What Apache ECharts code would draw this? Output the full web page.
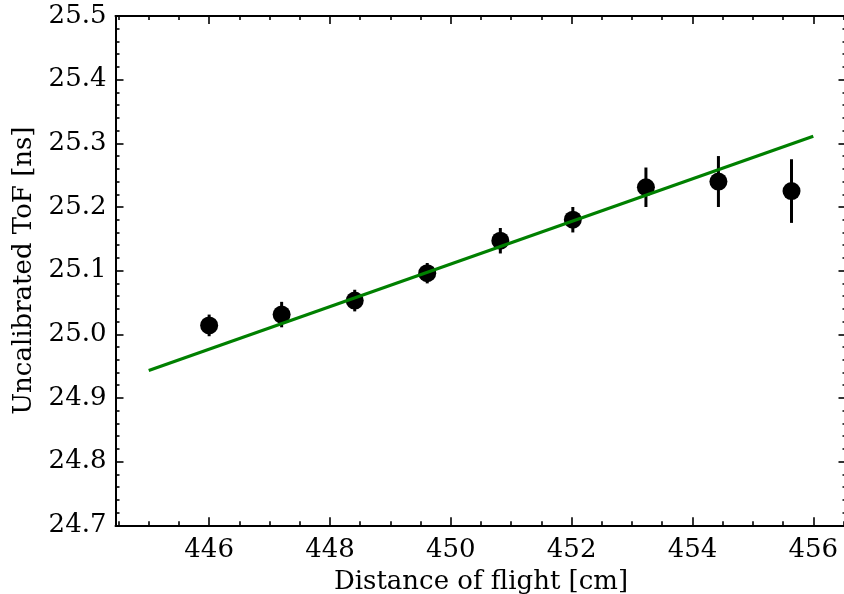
<!DOCTYPE html>
<html><head><meta charset="utf-8">
<script src="https://cdn.jsdelivr.net/npm/echarts@6/dist/echarts.min.js"></script>
<style>html,body{margin:0;padding:0;background:#fff}#c{width:844px;height:594px}</style>
</head><body><div id="c"></div>
<script>
const distance = [446.0, 447.2, 448.41, 449.61, 450.82, 452.02, 453.23, 454.43, 455.64];
const tof = [25.014, 25.031, 25.053, 25.096, 25.147, 25.180, 25.231, 25.240, 25.225];
const tofErr = [0.017, 0.020, 0.017, 0.016, 0.020, 0.020, 0.031, 0.040, 0.050];
const fitX = [445, 456];
const fitY = [24.943, 25.311];
const xMajor = [446, 448, 450, 452, 454, 456];
const xMinor = [444.5, 445, 445.5, 446.5, 447, 447.5, 448.5, 449, 449.5, 450.5, 451, 451.5, 452.5, 453, 453.5, 454.5, 455, 455.5, 456.5];
const yMajor = [24.7, 24.8, 24.9, 25.0, 25.1, 25.2, 25.3, 25.4, 25.5];
const yMinor = [24.72, 24.74, 24.76, 24.78, 24.82, 24.84, 24.86, 24.88, 24.92, 24.94, 24.96, 24.98, 25.02, 25.04, 25.06, 25.08, 25.12, 25.14, 25.16, 25.18, 25.22, 25.24, 25.26, 25.28, 25.32, 25.34, 25.36, 25.38, 25.42, 25.44, 25.46, 25.48];

const X_MIN = 444.45, X_MAX = 456.55, Y_MIN = 24.7, Y_MAX = 25.5;
const FONT = 'DejaVu Serif';
const FS = 26;

function xAxisDef(pos, ticks, len, labels, show, name) {
  return {
    type: 'value', position: pos, min: X_MIN, max: X_MAX,
    gridIndex: 0,
    name: name || '', nameLocation: 'middle', nameGap: 44,
    nameTextStyle: {fontFamily: FONT, fontSize: FS, color: '#000'},
    axisLine: {show: show, onZero: false, lineStyle: {color: '#000', width: 2}},
    axisTick: {show: true, inside: true, length: len, customValues: ticks, lineStyle: {color: '#000', width: 1.6}},
    axisLabel: labels ? {show: true, customValues: xMajor, fontFamily: FONT, fontSize: FS, color: '#000', margin: 12, formatter: v => String(Math.round(v))} : {show: false},
    splitLine: {show: false}
  };
}
function yAxisDef(pos, ticks, len, labels, show, name) {
  return {
    type: 'value', position: pos, min: Y_MIN, max: Y_MAX,
    gridIndex: 0,
    name: name || '', nameLocation: 'middle', nameGap: 78,
    nameTextStyle: {fontFamily: FONT, fontSize: FS, color: '#000'},
    axisLine: {show: show, onZero: false, lineStyle: {color: '#000', width: 2}},
    axisTick: {show: true, inside: true, length: len, customValues: ticks, lineStyle: {color: '#000', width: 1.6}},
    axisLabel: labels ? {show: true, customValues: yMajor, fontFamily: FONT, fontSize: FS, color: '#000', margin: 9, formatter: v => v.toFixed(1)} : {show: false},
    splitLine: {show: false}
  };
}

const chart = echarts.init(document.getElementById('c'), null, {renderer: 'canvas'});
chart.setOption({
  animation: false,
  backgroundColor: '#fff',
  grid: {left: 115.5, right: -2.5, top: 16, bottom: 68.7, containLabel: false, outerBoundsMode: 'none'},
  xAxis: [
    xAxisDef('bottom', xMajor, 8, true, true, 'Distance of flight [cm]'),
    xAxisDef('bottom', xMinor, 4, false, false),
    xAxisDef('top', xMajor, 8, false, true),
    xAxisDef('top', xMinor, 4, false, false)
  ],
  yAxis: [
    yAxisDef('left', yMajor, 8, true, true, 'Uncalibrated ToF [ns]'),
    yAxisDef('left', yMinor, 4, false, false),
    yAxisDef('right', yMajor, 8, false, false),
    yAxisDef('right', yMinor, 4, false, false)
  ],
  series: [
    {
      type: 'custom', xAxisIndex: 0, yAxisIndex: 0, z: 2,
      data: distance.map((d, i) => [d, tof[i], tofErr[i]]),
      renderItem: function (params, api) {
        const x = api.value(0), y = api.value(1), e = api.value(2);
        const p1 = api.coord([x, y - e]), p2 = api.coord([x, y + e]);
        return {type: 'line', shape: {x1: p1[0], y1: p1[1], x2: p2[0], y2: p2[1]}, style: {stroke: '#000', lineWidth: 3}};
      }
    },
    {
      type: 'scatter', xAxisIndex: 0, yAxisIndex: 0, z: 3,
      symbol: 'circle', symbolSize: 18,
      itemStyle: {color: '#000', opacity: 1},
      data: distance.map((d, i) => [d, tof[i]])
    },
    {
      type: 'line', xAxisIndex: 0, yAxisIndex: 0, z: 4,
      showSymbol: false, symbol: 'none',
      lineStyle: {color: '#008000', width: 3.2},
      data: fitX.map((x, i) => [x, fitY[i]])
    }
  ]
});
</script></body></html>
